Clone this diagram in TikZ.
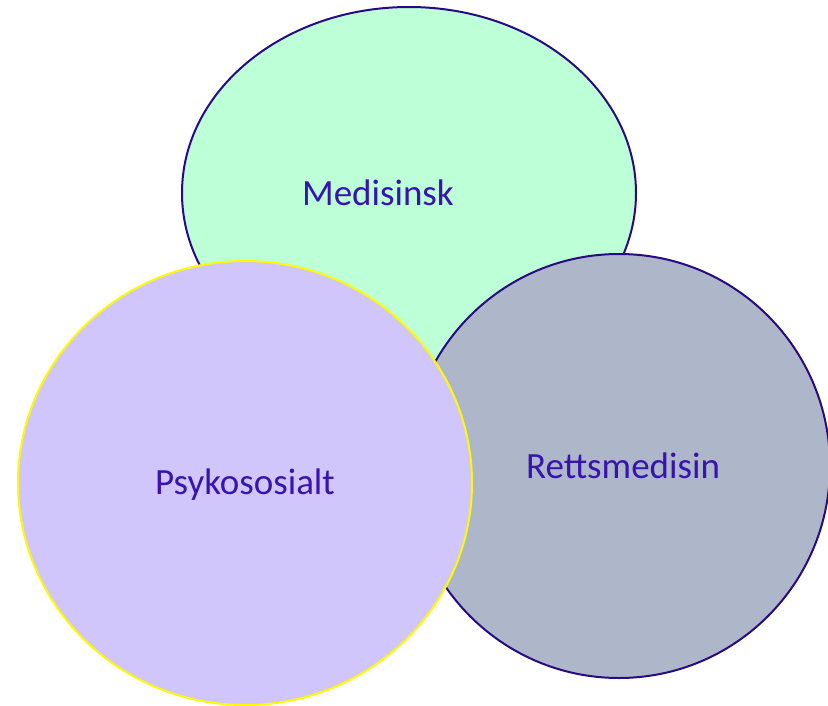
\documentclass[tikz,border=0pt]{standalone}
\usepackage{fontspec}
\setmainfont{Carlito}
\definecolor{strek}{RGB}{40,10,130}
\definecolor{tekst}{RGB}{55,20,175}
\definecolor{gronn}{RGB}{189,255,214}
\definecolor{graa}{RGB}{173,183,201}
\definecolor{lilla}{RGB}{209,198,251}
\definecolor{gul}{RGB}{255,250,0}
\tikzset{
    felt/.style={line width=2pt},
    navn/.style={text=tekst,font=\fontsize{37}{44}\selectfont}
}
\begin{document}
\begin{tikzpicture}[x=1pt,y=-1pt]
    \useasboundingbox (0,0) rectangle (828,706);
    \path[coordinate] (409,193) coordinate(M)
                      (619,466) coordinate(R)
                      (245,483) coordinate(P);
    \draw[felt,draw=strek,fill=gronn] (M) ellipse [x radius=227,y radius=186];
    \draw[felt,draw=strek,fill=graa] (R) ellipse [x radius=211,y radius=212];
    \draw[felt,draw=gul,fill=lilla] (P) ellipse [x radius=227,y radius=222];
    \node[navn] (medisinsk) at (378,193) {Medisinsk};
    \node[navn] (rettsmedisin) at (623,466) {Rettsmedisin};
    \node[navn] (psykososialt) at (245,485) {Psykososialt};
\end{tikzpicture}
\end{document}
